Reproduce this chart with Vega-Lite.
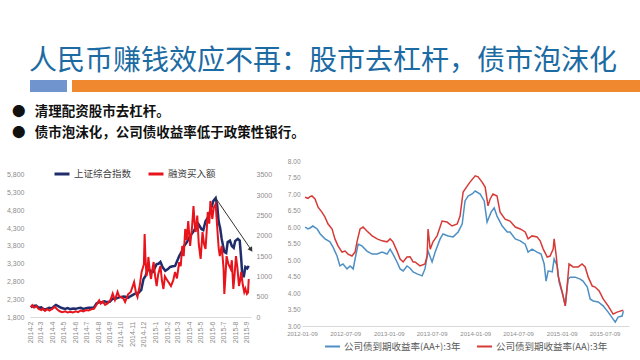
{
  "$schema": "https://vega.github.io/schema/vega-lite/v6.json",
  "background": "white",
  "padding": {"left": 0, "top": 48, "right": 0, "bottom": 0},
  "title": {"text": "人民币赚钱效应不再：股市去杠杆，债市泡沫化", "font": "Noto Sans CJK SC", "fontSize": 28, "fontWeight": "normal", "color": "#1D6BA3", "anchor": "middle", "offset": 4, "dx": -12},
  "spacing": 12,
  "datasets": {
    "sse": [
      {"date": "2014/02/03", "value": 2080}, {"date": "2014/02/10", "value": 2110}, {"date": "2014/02/17", "value": 2120}, {"date": "2014/02/24", "value": 2060},
      {"date": "2014/03/03", "value": 2070}, {"date": "2014/03/10", "value": 2010}, {"date": "2014/03/17", "value": 2030}, {"date": "2014/03/24", "value": 2060},
      {"date": "2014/03/31", "value": 2040}, {"date": "2014/04/08", "value": 2120}, {"date": "2014/04/11", "value": 2140}, {"date": "2014/04/18", "value": 2100},
      {"date": "2014/04/25", "value": 2060}, {"date": "2014/05/05", "value": 2030}, {"date": "2014/05/12", "value": 2050}, {"date": "2014/05/19", "value": 2020},
      {"date": "2014/05/26", "value": 2040}, {"date": "2014/06/03", "value": 2030}, {"date": "2014/06/09", "value": 2050}, {"date": "2014/06/16", "value": 2060},
      {"date": "2014/06/23", "value": 2030}, {"date": "2014/06/30", "value": 2050}, {"date": "2014/07/07", "value": 2060}, {"date": "2014/07/14", "value": 2060},
      {"date": "2014/07/21", "value": 2070}, {"date": "2014/07/28", "value": 2180}, {"date": "2014/08/04", "value": 2220}, {"date": "2014/08/11", "value": 2210},
      {"date": "2014/08/18", "value": 2240}, {"date": "2014/08/25", "value": 2220}, {"date": "2014/09/01", "value": 2230}, {"date": "2014/09/09", "value": 2320},
      {"date": "2014/09/15", "value": 2310}, {"date": "2014/09/22", "value": 2340}, {"date": "2014/09/29", "value": 2360}, {"date": "2014/10/08", "value": 2380},
      {"date": "2014/10/13", "value": 2370}, {"date": "2014/10/20", "value": 2340}, {"date": "2014/10/27", "value": 2390}, {"date": "2014/11/03", "value": 2430},
      {"date": "2014/11/10", "value": 2470}, {"date": "2014/11/17", "value": 2480}, {"date": "2014/11/24", "value": 2560}, {"date": "2014/11/30", "value": 2870},
      {"date": "2014/12/05", "value": 2950}, {"date": "2014/12/12", "value": 3150}, {"date": "2014/12/19", "value": 3100}, {"date": "2014/12/25", "value": 3070},
      {"date": "2015/01/04", "value": 3290}, {"date": "2015/01/09", "value": 3300}, {"date": "2015/01/14", "value": 3350}, {"date": "2015/01/20", "value": 3200},
      {"date": "2015/01/27", "value": 3100}, {"date": "2015/02/03", "value": 3150}, {"date": "2015/02/09", "value": 3210}, {"date": "2015/02/16", "value": 3230},
      {"date": "2015/02/22", "value": 3240}, {"date": "2015/03/05", "value": 3520}, {"date": "2015/03/12", "value": 3650}, {"date": "2015/03/18", "value": 3800},
      {"date": "2015/03/25", "value": 3900}, {"date": "2015/04/01", "value": 4050}, {"date": "2015/04/08", "value": 4150}, {"date": "2015/04/16", "value": 4280},
      {"date": "2015/04/25", "value": 4420}, {"date": "2015/05/03", "value": 4280}, {"date": "2015/05/08", "value": 4250}, {"date": "2015/05/14", "value": 4500},
      {"date": "2015/05/20", "value": 4600}, {"date": "2015/05/27", "value": 4790}, {"date": "2015/06/04", "value": 5070}, {"date": "2015/06/10", "value": 5150},
      {"date": "2015/06/14", "value": 4950}, {"date": "2015/06/18", "value": 4480}, {"date": "2015/06/22", "value": 4300}, {"date": "2015/06/26", "value": 4000},
      {"date": "2015/07/03", "value": 3630}, {"date": "2015/07/08", "value": 3600}, {"date": "2015/07/12", "value": 3910}, {"date": "2015/07/18", "value": 3950},
      {"date": "2015/07/23", "value": 3800}, {"date": "2015/07/28", "value": 3750}, {"date": "2015/08/01", "value": 3940}, {"date": "2015/08/08", "value": 4000},
      {"date": "2015/08/13", "value": 3950}, {"date": "2015/08/17", "value": 3430}, {"date": "2015/08/20", "value": 2950}, {"date": "2015/08/24", "value": 2950},
      {"date": "2015/08/28", "value": 3210}, {"date": "2015/09/02", "value": 3170}, {"date": "2015/09/06", "value": 3240}
    ],
    "margin": [
      {"date": "2014/02/03", "value": 240}, {"date": "2014/02/07", "value": 290}, {"date": "2014/02/12", "value": 230}, {"date": "2014/02/18", "value": 270},
      {"date": "2014/02/24", "value": 200}, {"date": "2014/03/03", "value": 170}, {"date": "2014/03/07", "value": 210}, {"date": "2014/03/13", "value": 150},
      {"date": "2014/03/19", "value": 190}, {"date": "2014/03/25", "value": 160}, {"date": "2014/04/01", "value": 200}, {"date": "2014/04/08", "value": 250},
      {"date": "2014/04/14", "value": 190}, {"date": "2014/04/21", "value": 140}, {"date": "2014/04/28", "value": 120}, {"date": "2014/05/06", "value": 140},
      {"date": "2014/05/12", "value": 110}, {"date": "2014/05/19", "value": 130}, {"date": "2014/05/26", "value": 110}, {"date": "2014/06/03", "value": 140},
      {"date": "2014/06/09", "value": 120}, {"date": "2014/06/16", "value": 160}, {"date": "2014/06/23", "value": 140}, {"date": "2014/06/30", "value": 170},
      {"date": "2014/07/07", "value": 160}, {"date": "2014/07/14", "value": 190}, {"date": "2014/07/21", "value": 200}, {"date": "2014/07/28", "value": 300},
      {"date": "2014/08/04", "value": 410}, {"date": "2014/08/08", "value": 330}, {"date": "2014/08/14", "value": 380}, {"date": "2014/08/20", "value": 300},
      {"date": "2014/08/27", "value": 340}, {"date": "2014/09/03", "value": 420}, {"date": "2014/09/09", "value": 580}, {"date": "2014/09/15", "value": 420},
      {"date": "2014/09/22", "value": 620}, {"date": "2014/09/26", "value": 518}, {"date": "2014/10/08", "value": 450}, {"date": "2014/10/12", "value": 370},
      {"date": "2014/10/20", "value": 560}, {"date": "2014/10/27", "value": 616}, {"date": "2014/11/05", "value": 860}, {"date": "2014/11/10", "value": 600},
      {"date": "2014/11/14", "value": 493}, {"date": "2014/11/20", "value": 780}, {"date": "2014/11/25", "value": 1110}, {"date": "2014/12/01", "value": 1300},
      {"date": "2014/12/03", "value": 2045}, {"date": "2014/12/05", "value": 1500}, {"date": "2014/12/08", "value": 1010}, {"date": "2014/12/11", "value": 1200},
      {"date": "2014/12/13", "value": 1480}, {"date": "2014/12/17", "value": 1100}, {"date": "2014/12/20", "value": 937}, {"date": "2014/12/24", "value": 1200},
      {"date": "2014/12/27", "value": 1355}, {"date": "2014/12/31", "value": 1000}, {"date": "2015/01/04", "value": 764}, {"date": "2015/01/08", "value": 1050},
      {"date": "2015/01/14", "value": 1257}, {"date": "2015/01/18", "value": 900}, {"date": "2015/01/22", "value": 690}, {"date": "2015/01/26", "value": 1000},
      {"date": "2015/01/30", "value": 937}, {"date": "2015/02/05", "value": 850}, {"date": "2015/02/11", "value": 764}, {"date": "2015/02/17", "value": 900},
      {"date": "2015/02/22", "value": 1110}, {"date": "2015/02/27", "value": 950}, {"date": "2015/03/05", "value": 1355}, {"date": "2015/03/09", "value": 1250},
      {"date": "2015/03/13", "value": 1750}, {"date": "2015/03/17", "value": 1500}, {"date": "2015/03/21", "value": 2170}, {"date": "2015/03/25", "value": 1900},
      {"date": "2015/03/29", "value": 2366}, {"date": "2015/04/03", "value": 1750}, {"date": "2015/04/08", "value": 2200}, {"date": "2015/04/12", "value": 2736},
      {"date": "2015/04/15", "value": 2300}, {"date": "2015/04/18", "value": 2095}, {"date": "2015/04/22", "value": 2500}, {"date": "2015/04/26", "value": 1800},
      {"date": "2015/05/01", "value": 1430}, {"date": "2015/05/06", "value": 2095}, {"date": "2015/05/10", "value": 1800}, {"date": "2015/05/14", "value": 1676},
      {"date": "2015/05/17", "value": 2100}, {"date": "2015/05/20", "value": 2588}, {"date": "2015/05/24", "value": 2300}, {"date": "2015/05/27", "value": 2860},
      {"date": "2015/06/01", "value": 2415}, {"date": "2015/06/05", "value": 2700}, {"date": "2015/06/10", "value": 2785}, {"date": "2015/06/12", "value": 2500},
      {"date": "2015/06/15", "value": 2095}, {"date": "2015/06/18", "value": 1700}, {"date": "2015/06/21", "value": 1500}, {"date": "2015/06/26", "value": 1750},
      {"date": "2015/07/01", "value": 1200}, {"date": "2015/07/03", "value": 567}, {"date": "2015/07/06", "value": 1000}, {"date": "2015/07/09", "value": 1500},
      {"date": "2015/07/14", "value": 1300}, {"date": "2015/07/20", "value": 1183}, {"date": "2015/07/23", "value": 1400}, {"date": "2015/07/27", "value": 690},
      {"date": "2015/07/30", "value": 1000}, {"date": "2015/08/03", "value": 1500}, {"date": "2015/08/07", "value": 1200}, {"date": "2015/08/11", "value": 764},
      {"date": "2015/08/14", "value": 900}, {"date": "2015/08/17", "value": 1110}, {"date": "2015/08/21", "value": 800}, {"date": "2015/08/25", "value": 616},
      {"date": "2015/08/28", "value": 700}, {"date": "2015/09/01", "value": 567}, {"date": "2015/09/04", "value": 600}, {"date": "2015/09/06", "value": 937}
    ],
    "arrow": [{"date": "2015/06/10", "value": 5150}, {"date": "2015/09/11", "value": 3715}],
    "arrowhead": [{"date": "2015/09/11", "value": 3715}],
    "aa": [
      {"date": "2012/01/22", "value": 6.90}, {"date": "2012/02/03", "value": 6.87}, {"date": "2012/02/12", "value": 6.92}, {"date": "2012/02/20", "value": 6.94},
      {"date": "2012/03/04", "value": 6.85}, {"date": "2012/03/17", "value": 6.60}, {"date": "2012/04/02", "value": 6.45}, {"date": "2012/04/15", "value": 6.30},
      {"date": "2012/04/28", "value": 6.09}, {"date": "2012/05/15", "value": 5.94}, {"date": "2012/05/27", "value": 5.64}, {"date": "2012/06/09", "value": 5.43},
      {"date": "2012/06/26", "value": 5.24}, {"date": "2012/07/09", "value": 5.27}, {"date": "2012/07/21", "value": 5.18}, {"date": "2012/08/07", "value": 5.12},
      {"date": "2012/08/20", "value": 5.24}, {"date": "2012/08/28", "value": 5.55}, {"date": "2012/09/10", "value": 5.94}, {"date": "2012/09/23", "value": 6.00},
      {"date": "2012/10/09", "value": 5.88}, {"date": "2012/10/31", "value": 5.73}, {"date": "2012/11/21", "value": 5.64}, {"date": "2012/12/12", "value": 5.58},
      {"date": "2013/01/02", "value": 5.55}, {"date": "2013/01/15", "value": 5.64}, {"date": "2013/01/27", "value": 5.55}, {"date": "2013/02/13", "value": 5.27},
      {"date": "2013/02/26", "value": 5.03}, {"date": "2013/03/11", "value": 4.94}, {"date": "2013/03/27", "value": 5.09}, {"date": "2013/04/09", "value": 5.10},
      {"date": "2013/04/22", "value": 4.94}, {"date": "2013/04/30", "value": 4.94}, {"date": "2013/05/21", "value": 4.82}, {"date": "2013/06/11", "value": 4.88},
      {"date": "2013/06/20", "value": 5.12}, {"date": "2013/06/24", "value": 5.94}, {"date": "2013/07/03", "value": 5.33}, {"date": "2013/07/15", "value": 5.55},
      {"date": "2013/08/01", "value": 5.73}, {"date": "2013/08/22", "value": 6.18}, {"date": "2013/09/12", "value": 6.15}, {"date": "2013/10/03", "value": 6.03},
      {"date": "2013/10/25", "value": 6.09}, {"date": "2013/11/06", "value": 6.33}, {"date": "2013/11/19", "value": 7.06}, {"date": "2013/12/06", "value": 7.24},
      {"date": "2013/12/18", "value": 7.36}, {"date": "2014/01/09", "value": 7.55}, {"date": "2014/01/21", "value": 7.52}, {"date": "2014/02/07", "value": 7.36},
      {"date": "2014/02/20", "value": 7.21}, {"date": "2014/03/04", "value": 6.64}, {"date": "2014/03/13", "value": 6.85}, {"date": "2014/03/25", "value": 7.00},
      {"date": "2014/04/11", "value": 6.94}, {"date": "2014/04/24", "value": 6.45}, {"date": "2014/05/15", "value": 6.24}, {"date": "2014/06/05", "value": 6.18},
      {"date": "2014/06/27", "value": 6.00}, {"date": "2014/07/18", "value": 5.94}, {"date": "2014/08/08", "value": 5.85}, {"date": "2014/08/20", "value": 5.64},
      {"date": "2014/09/06", "value": 5.73}, {"date": "2014/09/27", "value": 5.70}, {"date": "2014/10/10", "value": 5.58}, {"date": "2014/10/23", "value": 5.33},
      {"date": "2014/11/09", "value": 5.09}, {"date": "2014/11/21", "value": 5.12}, {"date": "2014/12/04", "value": 5.33}, {"date": "2014/12/08", "value": 5.64},
      {"date": "2014/12/17", "value": 5.12}, {"date": "2014/12/25", "value": 4.52}, {"date": "2015/01/11", "value": 4.03}, {"date": "2015/01/24", "value": 3.61},
      {"date": "2015/02/01", "value": 4.21}, {"date": "2015/02/09", "value": 4.88}, {"date": "2015/02/26", "value": 4.79}, {"date": "2015/03/20", "value": 4.79},
      {"date": "2015/04/05", "value": 4.88}, {"date": "2015/04/18", "value": 4.79}, {"date": "2015/05/01", "value": 4.48}, {"date": "2015/05/18", "value": 4.21},
      {"date": "2015/05/30", "value": 4.18}, {"date": "2015/06/16", "value": 4.06}, {"date": "2015/07/03", "value": 3.82}, {"date": "2015/07/24", "value": 3.61},
      {"date": "2015/08/14", "value": 3.36}, {"date": "2015/08/31", "value": 3.42}, {"date": "2015/09/13", "value": 3.45}, {"date": "2015/09/26", "value": 3.48}
    ],
    "aaplus": [
      {"date": "2012/01/22", "value": 6.00}, {"date": "2012/02/03", "value": 5.94}, {"date": "2012/02/12", "value": 5.97}, {"date": "2012/02/24", "value": 6.03},
      {"date": "2012/03/13", "value": 5.94}, {"date": "2012/03/26", "value": 5.79}, {"date": "2012/04/15", "value": 5.64}, {"date": "2012/05/06", "value": 5.55},
      {"date": "2012/05/19", "value": 5.39}, {"date": "2012/06/05", "value": 5.12}, {"date": "2012/06/17", "value": 4.82}, {"date": "2012/06/30", "value": 4.88},
      {"date": "2012/07/17", "value": 4.73}, {"date": "2012/07/30", "value": 4.82}, {"date": "2012/08/12", "value": 4.73}, {"date": "2012/08/20", "value": 5.03},
      {"date": "2012/09/02", "value": 5.48}, {"date": "2012/09/19", "value": 5.42}, {"date": "2012/10/09", "value": 5.27}, {"date": "2012/10/31", "value": 5.18},
      {"date": "2012/11/21", "value": 5.18}, {"date": "2012/12/12", "value": 5.24}, {"date": "2013/01/02", "value": 5.18}, {"date": "2013/01/15", "value": 5.33},
      {"date": "2013/01/27", "value": 5.18}, {"date": "2013/02/13", "value": 4.94}, {"date": "2013/02/26", "value": 4.73}, {"date": "2013/03/11", "value": 4.67},
      {"date": "2013/03/27", "value": 4.82}, {"date": "2013/04/09", "value": 4.75}, {"date": "2013/04/22", "value": 4.64}, {"date": "2013/05/09", "value": 4.58},
      {"date": "2013/05/30", "value": 4.52}, {"date": "2013/06/11", "value": 4.73}, {"date": "2013/06/24", "value": 5.27}, {"date": "2013/07/11", "value": 4.94},
      {"date": "2013/07/24", "value": 5.24}, {"date": "2013/08/14", "value": 5.64}, {"date": "2013/08/26", "value": 5.79}, {"date": "2013/09/17", "value": 5.73},
      {"date": "2013/10/08", "value": 5.70}, {"date": "2013/10/29", "value": 5.85}, {"date": "2013/11/15", "value": 6.09}, {"date": "2013/11/27", "value": 6.79},
      {"date": "2013/12/10", "value": 6.94}, {"date": "2013/12/27", "value": 7.00}, {"date": "2014/01/09", "value": 7.09}, {"date": "2014/01/30", "value": 7.00},
      {"date": "2014/02/16", "value": 6.79}, {"date": "2014/02/28", "value": 6.15}, {"date": "2014/03/17", "value": 6.45}, {"date": "2014/03/30", "value": 6.58},
      {"date": "2014/04/11", "value": 6.33}, {"date": "2014/05/03", "value": 6.03}, {"date": "2014/05/24", "value": 5.85}, {"date": "2014/06/05", "value": 5.85},
      {"date": "2014/06/27", "value": 5.64}, {"date": "2014/07/18", "value": 5.58}, {"date": "2014/08/08", "value": 5.48}, {"date": "2014/08/20", "value": 5.24},
      {"date": "2014/09/06", "value": 5.33}, {"date": "2014/09/27", "value": 5.24}, {"date": "2014/10/14", "value": 5.18}, {"date": "2014/10/27", "value": 4.88},
      {"date": "2014/11/04", "value": 4.36}, {"date": "2014/11/13", "value": 4.67}, {"date": "2014/11/30", "value": 4.64}, {"date": "2014/12/08", "value": 5.03},
      {"date": "2014/12/21", "value": 4.82}, {"date": "2014/12/29", "value": 4.33}, {"date": "2015/01/15", "value": 3.91}, {"date": "2015/01/24", "value": 3.61},
      {"date": "2015/02/05", "value": 4.42}, {"date": "2015/02/14", "value": 4.48}, {"date": "2015/03/07", "value": 4.48}, {"date": "2015/03/28", "value": 4.42},
      {"date": "2015/04/09", "value": 4.36}, {"date": "2015/04/27", "value": 4.18}, {"date": "2015/05/09", "value": 3.82}, {"date": "2015/05/22", "value": 3.76},
      {"date": "2015/06/12", "value": 3.73}, {"date": "2015/07/03", "value": 3.61}, {"date": "2015/07/24", "value": 3.42}, {"date": "2015/08/14", "value": 3.21},
      {"date": "2015/08/23", "value": 3.12}, {"date": "2015/09/04", "value": 3.27}, {"date": "2015/09/21", "value": 3.30}, {"date": "2015/09/26", "value": 3.45}
    ]
  },
  "vconcat": [
    {
      "spacing": 5,
      "hconcat": [
        {"width": 37, "height": 12, "data": {"values": [{"part": "left"}]}, "mark": {"type": "rect", "color": "#7094CE"}, "encoding": {}},
        {"width": 598, "height": 12, "data": {"values": [{"part": "right"}]}, "mark": {"type": "rect", "color": "#F0882F"}, "encoding": {}}
      ]
    },
    {
      "title": {"text": ["●\u00a0\u00a0\u00a0清理配资股市去杠杆。", "●\u00a0\u00a0\u00a0债市泡沫化，公司债收益率低于政策性银行。"], "anchor": "start", "font": "Noto Sans CJK SC", "fontSize": 13.5, "fontWeight": "bold", "lineHeight": 21, "color": "#111111", "offset": 19, "dx": 12},
      "spacing": 14,
      "resolve": {"scale": {"color": "independent"}, "legend": {"color": "independent"}},
      "hconcat": [
        {
          "width": 221,
          "height": 156,
          "layer": [
            {
              "data": {"name": "sse"},
              "mark": {"type": "line", "strokeWidth": 2.5},
              "encoding": {
                "x": {"field": "date", "type": "temporal", "scale": {"domain": [{"year": 2014, "month": 2, "date": 1}, {"year": 2015, "month": 9, "date": 12}]},
                      "axis": {"format": "%Y-%-m", "labelAngle": 270, "tickCount": {"interval": "month", "step": 1}, "labelOverlap": false, "labelFlush": false, "labelFontSize": 7, "labelColor": "#8c8c8c", "ticks": false, "domain": true, "domainColor": "#d9d9d9", "grid": false, "title": null, "labelPadding": 4}},
                "y": {"field": "value", "type": "quantitative", "scale": {"domain": [1800, 6194], "zero": false, "nice": false},
                      "axis": {"orient": "left", "values": [1800, 2300, 2800, 3300, 3800, 4300, 4800, 5300, 5800], "format": ",d", "labelFontSize": 7, "labelColor": "#8c8c8c", "ticks": false, "domain": false, "grid": false, "title": null, "labelPadding": 6, "minExtent": 30}},
                "color": {"datum": "上证综合指数", "type": "nominal", "scale": {"domain": ["上证综合指数", "融资买入额"], "range": ["#1F2D6B", "#E8141B"]},
                          "legend": {"orient": "none", "legendX": 23, "legendY": 4, "direction": "horizontal", "title": null, "symbolType": "stroke", "symbolStrokeWidth": 3, "symbolSize": 225, "labelFontSize": 9.5, "labelColor": "#404040", "labelFont": "Noto Sans CJK SC", "labelOffset": 3, "columnPadding": 10}}
              }
            },
            {
              "data": {"name": "margin"},
              "mark": {"type": "line", "strokeWidth": 2},
              "encoding": {
                "x": {"field": "date", "type": "temporal"},
                "y": {"field": "value", "type": "quantitative", "scale": {"domain": [0, 3845], "nice": false},
                      "axis": {"orient": "right", "values": [0, 500, 1000, 1500, 2000, 2500, 3000, 3500], "format": "d", "labelFontSize": 7, "labelColor": "#8c8c8c", "ticks": false, "domain": false, "grid": false, "title": null, "labelPadding": 5}},
                "color": {"datum": "融资买入额", "type": "nominal"}
              }
            },
            {
              "data": {"name": "arrow"},
              "mark": {"type": "line", "color": "#333333", "strokeWidth": 1},
              "encoding": {
                "x": {"field": "date", "type": "temporal"},
                "y": {"field": "value", "type": "quantitative", "scale": {"domain": [1800, 6194], "nice": false}, "axis": null}
              }
            },
            {
              "data": {"name": "arrowhead"},
              "mark": {"type": "point", "shape": "triangle", "angle": 146, "size": 30, "filled": true, "color": "#333333", "opacity": 1},
              "encoding": {
                "x": {"field": "date", "type": "temporal"},
                "y": {"field": "value", "type": "quantitative", "scale": {"domain": [1800, 6194], "nice": false}, "axis": null}
              }
            }
          ],
          "resolve": {"scale": {"y": "independent"}}
        },
        {
          "width": 327,
          "height": 165,
          "encoding": {
            "x": {"field": "date", "type": "temporal", "scale": {"domain": [{"year": 2012, "month": 1, "date": 9}, {"year": 2015, "month": 10, "date": 20}]},
                  "axis": {"values": [{"year": 2012, "month": 1, "date": 9}, {"year": 2012, "month": 7, "date": 9}, {"year": 2013, "month": 1, "date": 9}, {"year": 2013, "month": 7, "date": 9}, {"year": 2014, "month": 1, "date": 9}, {"year": 2014, "month": 7, "date": 9}, {"year": 2015, "month": 1, "date": 9}, {"year": 2015, "month": 7, "date": 9}],
                           "format": "%Y-%m-%d", "labelAngle": 0, "labelFontSize": 6, "labelColor": "#8c8c8c", "ticks": false, "domain": true, "domainColor": "#d9d9d9", "grid": false, "title": null, "labelPadding": 4, "labelOverlap": false, "labelFlush": false}},
            "y": {"field": "value", "type": "quantitative", "scale": {"domain": [3, 8], "zero": false},
                  "axis": {"values": [3, 3.5, 4, 4.5, 5, 5.5, 6, 6.5, 7, 7.5, 8], "format": ".2f", "labelFontSize": 6.5, "labelColor": "#8c8c8c", "ticks": false, "domain": false, "grid": false, "title": null}},
            "color": {"type": "nominal", "scale": {"domain": ["公司债到期收益率(AA+):3年", "公司债到期收益率(AA):3年"], "range": ["#4E8FC4", "#D63A36"]},
                      "legend": {"orient": "bottom", "direction": "horizontal", "title": null, "symbolType": "stroke", "symbolStrokeWidth": 2, "symbolSize": 225, "labelFontSize": 9.5, "labelColor": "#595959", "labelFont": "Noto Sans CJK SC", "labelOffset": 3, "offset": 2, "columnPadding": 12}}
          },
          "layer": [
            {"data": {"name": "aaplus"}, "mark": {"type": "line", "strokeWidth": 1.5}, "encoding": {"color": {"datum": "公司债到期收益率(AA+):3年", "type": "nominal"}}},
            {"data": {"name": "aa"}, "mark": {"type": "line", "strokeWidth": 1.5}, "encoding": {"color": {"datum": "公司债到期收益率(AA):3年", "type": "nominal"}}}
          ]
        }
      ]
    }
  ],
  "config": {
    "view": {"stroke": null},
    "axis": {"labelFont": "Liberation Sans"},
    "legend": {"layout": {"top": {"anchor": "middle"}, "bottom": {"anchor": "middle"}}}
  }
}
